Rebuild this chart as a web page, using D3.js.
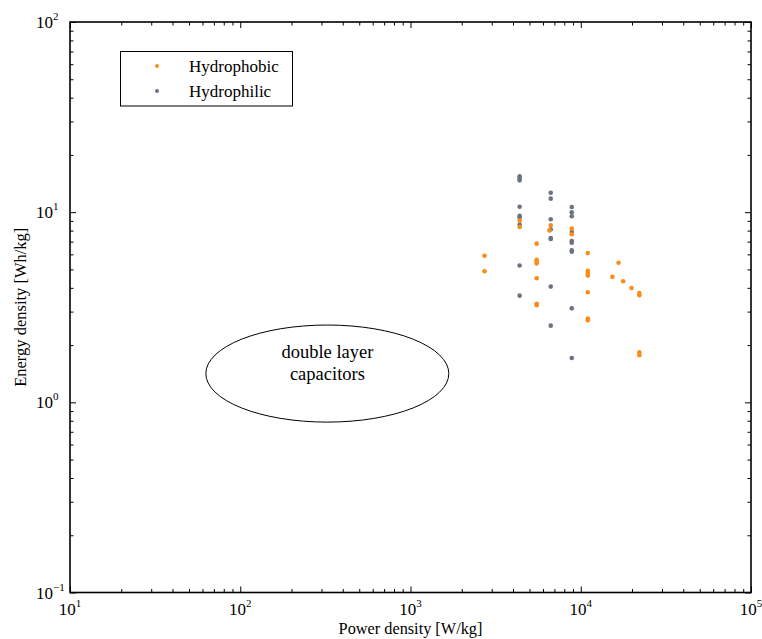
<!DOCTYPE html>
<html>
<head>
<meta charset="utf-8">
<script src="https://cdn.jsdelivr.net/npm/d3@7"></script>
<style>
  html, body { margin: 0; padding: 0; background: #fff; }
  svg text { font-family: "Liberation Serif", "DejaVu Serif", serif; fill: #000; }
</style>
</head>
<body>
<svg id="chart" width="762" height="639"></svg>
<script>
// ---- data ----
const seriesNames = ["Hydrophobic", "Hydrophilic"];
const hydrophobicPower  = [2720, 2720, 4375, 4375, 5510, 5510, 5510, 5510, 5510, 5510, 5510, 6665, 6550, 8855, 8855, 11000, 11000, 11000, 11000, 11000, 11000, 11000, 15350, 16670, 17740, 19870, 22090, 22090, 22090, 22090];
const hydrophobicEnergy = [5.90, 4.89, 9.00, 8.35, 6.83, 5.62, 5.48, 5.38, 4.49, 3.30, 3.24, 8.53, 8.02, 8.19, 7.65, 6.10, 4.91, 4.77, 4.64, 3.79, 2.76, 2.70, 4.57, 5.42, 4.33, 3.99, 3.76, 3.66, 1.83, 1.77];
const hydrophilicPower  = [4375, 4375, 4375, 4375, 4375, 4375, 4375, 4375, 4375, 6665, 6665, 6665, 6665, 6665, 6665, 6665, 6665, 8855, 8855, 8855, 8855, 8855, 8855, 8855, 8855, 8855, 8855];
const hydrophilicEnergy = [15.43, 15.06, 14.70, 10.67, 9.56, 9.39, 8.58, 5.24, 3.64, 12.66, 11.78, 9.17, 8.12, 7.31, 7.22, 4.06, 2.53, 10.64, 9.98, 9.51, 7.86, 7.05, 6.90, 6.30, 6.20, 3.12, 1.71];
const xDomain = [10, 100000];
const yDomain = [0.1, 100];
const xTickExponents = [1, 2, 3, 4, 5];
const yTickExponents = [-1, 0, 1, 2];
const ellipseLabel = ["double layer", "capacitors"];
const ellipseX = [62.8, 325, 1679];   // left, center, right (W/kg)
const ellipseY = [0.787, 1.42, 2.55]; // bottom, center, top (Wh/kg)
const xTitle = "Power density [W/kg]";
const yTitle = "Energy density [Wh/kg]";

// ---- layout ----
const colors = ["#fb8c17", "#6c7380"];
const L = 70, R = 751, T = 22, B = 592.5;
const svg = d3.select("#chart");
const x = d3.scaleLog().domain(xDomain).range([L, R]);
const y = d3.scaleLog().domain(yDomain).range([B, T]);

function isMajor(v) { return Math.abs(Math.log10(v) - Math.round(Math.log10(v))) < 1e-6; }
function minorTicks(scale) { return scale.ticks().filter(v => !isMajor(v)); }
function majorTicks(scale) { return scale.ticks().filter(isMajor); }

const axisLayer = svg.append("g");
function addAxis(gen, tf) {
  const g = axisLayer.append("g").attr("transform", tf).call(gen);
  g.select(".domain").remove();
  g.selectAll("text").remove();
  g.selectAll("line").attr("stroke", "#000").attr("stroke-width", 1);
}
[[d3.axisBottom, `translate(0,${B})`], [d3.axisTop, `translate(0,${T})`]].forEach(([fn, tf]) => {
  addAxis(fn(x).tickValues(majorTicks(x)).tickSize(-6).tickFormat(""), tf);
  addAxis(fn(x).tickValues(minorTicks(x)).tickSize(-3.5).tickFormat(""), tf);
});
[[d3.axisLeft, `translate(${L},0)`], [d3.axisRight, `translate(${R},0)`]].forEach(([fn, tf]) => {
  addAxis(fn(y).tickValues(majorTicks(y)).tickSize(-6).tickFormat(""), tf);
  addAxis(fn(y).tickValues(minorTicks(y)).tickSize(-3.5).tickFormat(""), tf);
});

// frame
svg.append("rect").attr("x", L).attr("y", T).attr("width", R - L).attr("height", B - T)
  .attr("fill", "none").attr("stroke", "#000").attr("stroke-width", 1.6);

// tick labels
function expLabel(sel, e) {
  sel.append("tspan").text("10");
  sel.append("tspan").attr("font-size", 11).attr("dy", -8)
    .text(e < 0 ? "\u2212" + Math.abs(e) : String(e));
}
xTickExponents.forEach(e => {
  const t = svg.append("text").attr("x", x(Math.pow(10, e))).attr("y", 615)
    .attr("text-anchor", "middle").attr("font-size", 17);
  expLabel(t, e);
});
yTickExponents.forEach(e => {
  const t = svg.append("text").attr("x", 36).attr("y", y(Math.pow(10, e)) + 6)
    .attr("text-anchor", "start").attr("font-size", 17);
  expLabel(t, e);
});

// axis titles
svg.append("text").attr("x", (L + R) / 2).attr("y", 634).attr("text-anchor", "middle")
  .attr("font-size", 16.3).text(xTitle);
svg.append("text").attr("transform", `translate(26,${(T + B) / 2}) rotate(-90)`)
  .attr("text-anchor", "middle").attr("font-size", 16.5).text(yTitle);

// ellipse
const ecx = x(ellipseX[1]), ecy = y(ellipseY[1]);
svg.append("ellipse").attr("cx", (x(ellipseX[0]) + x(ellipseX[2])) / 2)
  .attr("cy", (y(ellipseY[0]) + y(ellipseY[2])) / 2)
  .attr("rx", (x(ellipseX[2]) - x(ellipseX[0])) / 2)
  .attr("ry", (y(ellipseY[0]) - y(ellipseY[2])) / 2)
  .attr("fill", "none").attr("stroke", "#000").attr("stroke-width", 1);
ellipseLabel.forEach((s, i) => {
  svg.append("text").attr("x", ecx).attr("y", ecy - 15 + i * 22)
    .attr("text-anchor", "middle").attr("font-size", 18.5).text(s);
});

// points
const series = [
  hydrophobicPower.map((p, i) => [p, hydrophobicEnergy[i]]),
  hydrophilicPower.map((p, i) => [p, hydrophilicEnergy[i]])
];
[1, 0].forEach(si => {
  svg.append("g").selectAll("circle").data(series[si]).join("circle")
    .attr("cx", d => x(d[0])).attr("cy", d => y(d[1])).attr("r", 2.3)
    .attr("fill", colors[si]);
});

// legend
const lg = svg.append("g");
lg.append("rect").attr("x", 120.5).attr("y", 51.5).attr("width", 172).attr("height", 54.5)
  .attr("fill", "#fff").attr("stroke", "#000").attr("stroke-width", 1);
seriesNames.forEach((n, i) => {
  const cy = 66 + i * 25;
  lg.append("circle").attr("cx", 157).attr("cy", cy).attr("r", 2).attr("fill", colors[i]);
  lg.append("text").attr("x", 189).attr("y", cy + 5.5).attr("font-size", 17).text(n);
});
</script>
</body>
</html>
